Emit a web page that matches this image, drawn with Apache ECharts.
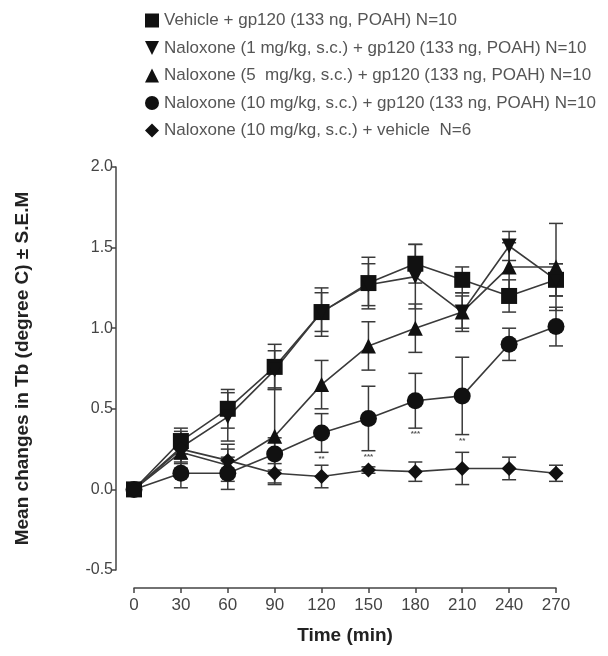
<!DOCTYPE html>
<html><head><meta charset="utf-8">
<script src="https://cdn.jsdelivr.net/npm/echarts@6/dist/echarts.min.js"></script>
<style>html,body{margin:0;padding:0;background:#fff}#c{width:608px;height:656px}</style>
</head><body><div id="c"></div>
<script>
var times = [0, 30, 60, 90, 120, 150, 180, 210, 240, 270];
var seriesNames = [
  'Vehicle + gp120 (133 ng, POAH) N=10',
  'Naloxone (1 mg/kg, s.c.) + gp120 (133 ng, POAH) N=10',
  'Naloxone (5  mg/kg, s.c.) + gp120 (133 ng, POAH) N=10',
  'Naloxone (10 mg/kg, s.c.) + gp120 (133 ng, POAH) N=10',
  'Naloxone (10 mg/kg, s.c.) + vehicle  N=6'
];
var vehicleMean = [0, 0.30, 0.50, 0.76, 1.10, 1.28, 1.40, 1.30, 1.20, 1.30];
var vehicleSem  = [0, 0.08, 0.12, 0.14, 0.15, 0.16, 0.12, 0.08, 0.10, 0.10];
var nal1Mean = [0, 0.26, 0.45, 0.74, 1.10, 1.27, 1.32, 1.10, 1.51, 1.30];
var nal1Sem  = [0, 0.10, 0.15, 0.12, 0.12, 0.13, 0.20, 0.10, 0.09, 0.10];
var nal5Mean = [0, 0.23, 0.15, 0.33, 0.65, 0.89, 1.00, 1.10, 1.38, 1.38];
var nal5Sem  = [0, 0.10, 0.10, 0.30, 0.15, 0.15, 0.15, 0.12, 0.15, 0.27];
var nal10Mean = [0, 0.10, 0.10, 0.22, 0.35, 0.44, 0.55, 0.58, 0.90, 1.01];
var nal10Sem  = [0, 0.09, 0.10, 0.10, 0.12, 0.20, 0.17, 0.24, 0.10, 0.12];
var nal10VehMean = [0, 0.25, 0.18, 0.10, 0.08, 0.12, 0.11, 0.13, 0.13, 0.10];
var nal10VehSem  = [0, 0.08, 0.10, 0.06, 0.07, 0.02, 0.06, 0.10, 0.07, 0.05];
var sigMarks = ['', '', '', '', '**', '***', '***', '**', '', ''];
var yTicks = [-0.5, 0.0, 0.5, 1.0, 1.5, 2.0];

var downTri = 'path://M0,0 L10,0 L5,10 Z';
var symbols = ['rect', downTri, 'triangle', 'circle', 'diamond'];
var sizes = [16, 15, 15, 17, 15];
var means = [vehicleMean, nal1Mean, nal5Mean, nal10Mean, nal10VehMean];
var sems = [vehicleSem, nal1Sem, nal5Sem, nal10Sem, nal10VehSem];

var series = [];
means.forEach(function (m, k) {
  var s = sems[k];
  var errData = times.map(function (t, i) { return [t, m[i] - s[i], m[i] + s[i], k === 3 ? sigMarks[i] : '']; });
  series.push({
    type: 'custom', name: seriesNames[k] + ' err', silent: true, z: 1,
    data: errData, encode: { x: 0, y: [1, 2] },
    renderItem: function (params, api) {
      if (api.value(2) - api.value(1) <= 0) return null;
      var lo = api.coord([api.value(0), api.value(1)]);
      var hi = api.coord([api.value(0), api.value(2)]);
      var w = 7;
      var st = { stroke: '#3a3a3a', lineWidth: 1.5 };
      var ch = [
        { type: 'line', shape: { x1: lo[0], y1: lo[1], x2: hi[0], y2: hi[1] }, style: st },
        { type: 'line', shape: { x1: lo[0] - w, y1: lo[1], x2: lo[0] + w, y2: lo[1] }, style: st },
        { type: 'line', shape: { x1: hi[0] - w, y1: hi[1], x2: hi[0] + w, y2: hi[1] }, style: st }
      ];
      var mark = api.value(3);
      if (mark) {
        ch.push({ type: 'text', x: lo[0], y: lo[1] + 2,
          style: { text: mark, fill: '#555', font: 'bold 8px Liberation Sans', align: 'center', verticalAlign: 'top' } });
      }
      return { type: 'group', children: ch };
    }
  });
});
means.forEach(function (m, k) {
  series.push({
    type: 'line', name: seriesNames[k], z: 3,
    data: times.map(function (t, i) { return [t, m[i]]; }),
    symbol: symbols[k], symbolSize: sizes[k],
    lineStyle: { color: '#3a3a3a', width: 1.6 },
    itemStyle: { color: '#111' },
    emphasis: { disabled: true }
  });
});

var chart = echarts.init(document.getElementById('c'), null, { renderer: 'canvas' });
chart.setOption({
  animation: false,
  backgroundColor: '#fff',
  legend: {
    orient: 'vertical', left: 140, top: 7, itemGap: 10.5,
    itemWidth: 14, itemHeight: 14,
    textStyle: { fontFamily: 'Liberation Sans', fontSize: 17, color: '#555' },
    data: seriesNames.map(function (n, k) { return { name: n, icon: symbols[k] }; }),
    selectedMode: false
  },
  grid: { left: 134, right: 52, top: 167, bottom: 86 },
  xAxis: {
    type: 'value', min: 0, max: 270, interval: 30, offset: 18,
    axisLine: { onZero: false, lineStyle: { color: '#444', width: 1.5 } },
    axisTick: { length: 5, lineStyle: { color: '#444', width: 1.5 } },
    axisLabel: { color: '#444', fontSize: 17, fontFamily: 'Liberation Sans', margin: 9 },
    splitLine: { show: false },
    name: 'Time (min)', nameLocation: 'middle', nameGap: 38,
    nameTextStyle: { fontWeight: 'bold', fontSize: 19, color: '#222', fontFamily: 'Liberation Sans' }
  },
  yAxis: {
    type: 'value', min: yTicks[0], max: yTicks[yTicks.length - 1], interval: 0.5, offset: 18,
    axisLine: { show: true, onZero: false, lineStyle: { color: '#444', width: 1.5 } },
    axisTick: { show: true, length: 4, lineStyle: { color: '#444', width: 1.5 } },
    axisLabel: { color: '#444', fontSize: 16, fontFamily: 'Liberation Sans', margin: 3,
      formatter: function (v) { return v.toFixed(1); } },
    splitLine: { show: false },
    name: 'Mean changes in Tb (degree C) \u00b1 S.E.M', nameLocation: 'middle', nameGap: 84,
    nameTextStyle: { fontWeight: 'bold', fontSize: 19, color: '#222', fontFamily: 'Liberation Sans' }
  },
  series: series
});
</script></body></html>
